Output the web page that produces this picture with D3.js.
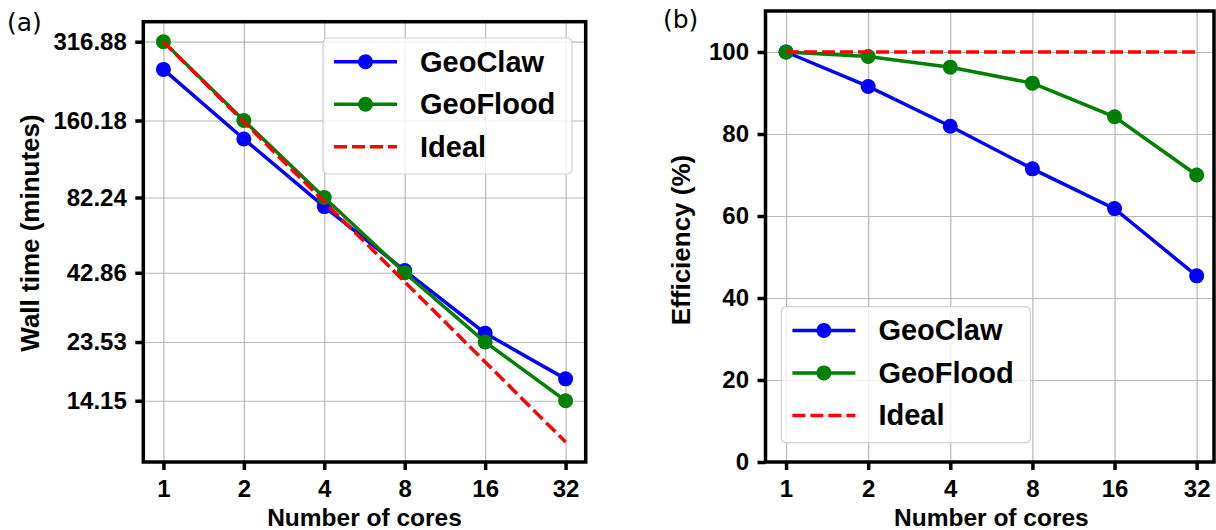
<!DOCTYPE html>
<html>
<head>
<meta charset="utf-8" />
<title>GeoClaw vs GeoFlood scaling</title>
<style>
body { margin: 0; background: #fff; }
svg text { font-family: "Liberation Sans", Arial, sans-serif; }
</style>
</head>
<body>
<div id="chart"></div>
<script src="https://d3js.org/d3.v7.min.js"></script>
<script>
// data
var cores = [1, 2, 4, 8, 16, 32];
var seriesNames = ["GeoClaw", "GeoFlood", "Ideal"];

// (a) wall time in minutes
var timeGeoClaw = [249.3, 136.5, 76.0, 43.7, 25.4, 17.1];
var timeGeoFlood = [316.88, 160.18, 82.24, 42.86, 23.53, 14.15];
var timeIdeal = [316.88, 158.44, 79.22, 39.61, 19.80, 9.90];
var timeTicks = [316.88, 160.18, 82.24, 42.86, 23.53, 14.15];

// (b) efficiency in percent
var effGeoClaw = [100, 91.6, 81.9, 71.5, 61.8, 45.4];
var effGeoFlood = [100, 98.9, 96.3, 92.4, 84.2, 70.0];
var effIdeal = [100, 100, 100, 100, 100, 100];
var effTicks = [0, 20, 40, 60, 80, 100];

var W = 1216, H = 530;
var colors = ["#0000ff", "#008000", "#ff0000"];

var svg = d3.select("#chart").append("svg")
  .attr("width", W)
  .attr("height", H);

function drawPanel(p) {
  var g = svg.append("g");
  var x = d3.scaleLog().base(2)
    .domain([Math.pow(2, -0.25), Math.pow(2, 5.25)])
    .range([p.left, p.right]);
  var y = p.y;
  var top = y.range()[1], bottom = y.range()[0];
  var frameRight = Math.min(p.right, W - 2);

  // grid
  g.append("g").attr("transform", "translate(0," + bottom + ")")
    .call(d3.axisBottom(x).tickValues(cores).tickSize(-(bottom - top)).tickFormat(""))
    .call(function(s){ s.select(".domain").remove(); })
    .selectAll("line").attr("stroke", "#b8b8b8").attr("stroke-width", 1.2);
  g.append("g").attr("transform", "translate(" + p.left + ",0)")
    .call(d3.axisLeft(y).tickValues(p.ticks).tickSize(-(frameRight - p.left)).tickFormat(""))
    .call(function(s){ s.select(".domain").remove(); })
    .selectAll("line").attr("stroke", "#b8b8b8").attr("stroke-width", 1.2);

  // series
  var line = d3.line().x(function(d, i){ return x(cores[i]); }).y(function(d){ return y(d); });
  p.series.forEach(function(vals, k) {
    var path = g.append("path").datum(vals)
      .attr("d", line)
      .attr("fill", "none")
      .attr("stroke", colors[k])
      .attr("stroke-width", 3.5);
    if (k == 2) {
      path.attr("stroke-dasharray", "13,5");
    } else {
      g.selectAll(null).data(vals).enter().append("circle")
        .attr("cx", function(d, i){ return x(cores[i]); })
        .attr("cy", function(d){ return y(d); })
        .attr("r", 7.5)
        .attr("fill", colors[k]);
    }
  });
  // ideal goes on top of the markers
  g.selectAll("path").filter(function(){ return this.getAttribute("stroke-dasharray"); }).raise();

  // frame
  g.append("rect")
    .attr("x", p.left).attr("y", top)
    .attr("width", frameRight - p.left).attr("height", bottom - top)
    .attr("fill", "none").attr("stroke", "#000").attr("stroke-width", 3.5);

  // ticks + labels
  var ax = g.append("g").attr("transform", "translate(0," + bottom + ")")
    .call(d3.axisBottom(x).tickValues(cores).tickFormat(d3.format("d")).tickSize(8).tickSizeOuter(0).tickPadding(8));
  var ay = g.append("g").attr("transform", "translate(" + p.left + ",0)")
    .call(d3.axisLeft(y).tickValues(p.ticks).tickFormat(p.fmt).tickSize(8).tickSizeOuter(0).tickPadding(8.5));
  [ax, ay].forEach(function(a) {
    a.select(".domain").remove();
    a.selectAll("line").attr("stroke", "#000").attr("stroke-width", 3.5);
    a.selectAll("text").attr("fill", "#000")
      .style("font-family", '"Liberation Sans", Arial, sans-serif')
      .style("font-size", "24px").style("font-weight", "bold");
  });
  ax.selectAll("text").attr("dy", null).attr("y", 35);

  // axis titles
  g.append("text")
    .attr("x", (p.left + p.right) / 2).attr("y", 525.5)
    .attr("text-anchor", "middle")
    .style("font-size", "24.5px").style("font-weight", "bold")
    .text("Number of cores");
  g.append("text")
    .attr("transform", "translate(" + p.ylabX + "," + p.ylabY + ") rotate(-90)")
    .attr("text-anchor", "middle")
    .style("font-size", "26px").style("font-weight", "bold")
    .text(p.ylabel);

  // panel tag
  g.append("text")
    .attr("x", p.tagX).attr("y", p.tagY)
    .style("font-family", '"DejaVu Sans", sans-serif')
    .style("font-size", "25px")
    .text(p.tag);

  // legend
  var lg = g.append("g").attr("transform", "translate(" + p.legX + "," + p.legY + ")");
  lg.append("rect")
    .attr("width", 249).attr("height", 136).attr("rx", 5)
    .attr("fill", "#fff").attr("fill-opacity", 0.8)
    .attr("stroke", "#d0d0d0").attr("stroke-width", 1.2);
  seriesNames.forEach(function(name, k) {
    var ry = 23.7 + k * 42.5;
    var ln = lg.append("line")
      .attr("x1", 11).attr("x2", 74).attr("y1", ry).attr("y2", ry)
      .attr("stroke", colors[k]).attr("stroke-width", 3.5);
    if (k == 2) ln.attr("stroke-dasharray", "13,5");
    else lg.append("circle").attr("cx", 42.5).attr("cy", ry).attr("r", 7.5).attr("fill", colors[k]);
    lg.append("text")
      .attr("x", 97).attr("y", ry + 10)
      .style("font-size", "29px").style("font-weight", "bold")
      .text(name);
  });
}

// (a) log-log wall time, 5% margin in log space like matplotlib
var tMin = d3.min(timeIdeal.concat(timeGeoFlood, timeGeoClaw));
var tMax = d3.max(timeIdeal.concat(timeGeoFlood, timeGeoClaw));
var pad = (Math.log(tMax) - Math.log(tMin)) * 0.05;
var yA = d3.scaleLog()
  .domain([tMin / Math.exp(pad), tMax * Math.exp(pad)])
  .range([462, 21.7]);

drawPanel({
  left: 143.3, right: 585.7, y: yA,
  ticks: timeTicks, fmt: d3.format(".2f"),
  series: [timeGeoClaw, timeGeoFlood, timeIdeal],
  ylabel: "Wall time (minutes)", ylabX: 39, ylabY: 233,
  tag: "(a)", tagX: 7, tagY: 31,
  legX: 323, legY: 38
});

// (b) efficiency
var yB = d3.scaleLinear().domain([0, 110]).range([462, 11]);
drawPanel({
  left: 765.5, right: 1217.2, y: yB,
  ticks: effTicks, fmt: d3.format("d"),
  series: [effGeoClaw, effGeoFlood, effIdeal],
  ylabel: "Efficiency (%)", ylabX: 690, ylabY: 240,
  tag: "(b)", tagX: 663, tagY: 27.5,
  legX: 781.4, legY: 306.7
});
</script>
</body>
</html>
